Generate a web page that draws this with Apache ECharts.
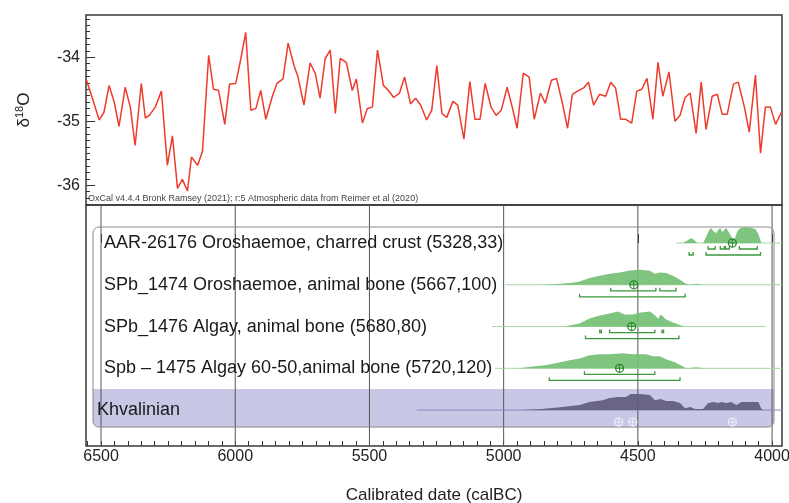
<!DOCTYPE html>
<html>
<head>
<meta charset="utf-8">
<script src="https://cdn.jsdelivr.net/npm/echarts@6/dist/echarts.min.js"></script>
<style>
html, body { margin: 0; padding: 0; background: #fff; }
#chart { width: 789px; height: 503px; }
</style>
</head>
<body>
<div id="chart"></div>
<script>
// x extents in calBC (axis runs old -> young, left -> right)
const xMin = 3963;
const xMax = 6556;
const yearTicks = [6500, 6000, 5500, 5000, 4500, 4000];
const isoTicks = [-36, -35, -34];

// δ18O curve
const isoYears = [6554, 6530, 6507, 6489, 6470, 6451, 6433, 6410, 6391, 6373, 6350, 6335, 6320, 6298, 6275, 6253, 6234, 6215, 6197, 6178,
	6163, 6140, 6122, 6099, 6081, 6062, 6039, 6021, 5998, 5979, 5961, 5942, 5923, 5905, 5886, 5863, 5845, 5822, 5803, 5781,
	5766, 5744, 5721, 5702, 5684, 5665, 5646, 5627, 5609, 5586, 5564, 5549, 5526, 5508, 5489, 5470, 5448, 5429, 5410, 5388,
	5369, 5347, 5328, 5309, 5287, 5268, 5249, 5230, 5212, 5189, 5171, 5148, 5126, 5107, 5088, 5069, 5047, 5028, 5009, 4987,
	4968, 4950, 4927, 4905, 4886, 4863, 4845, 4822, 4803, 4781, 4762, 4744, 4725, 4702, 4684, 4665, 4643, 4620, 4601, 4583,
	4564, 4545, 4523, 4504, 4485, 4466, 4444, 4425, 4407, 4384, 4362, 4343, 4324, 4305, 4283, 4264, 4246, 4223, 4204, 4186,
	4167, 4144, 4126, 4103, 4085, 4062, 4043, 4025, 4006, 3987, 3965];
const isoValues = [-34.36, -34.67, -34.98, -34.86, -34.44, -34.70, -35.08, -34.47, -34.78, -35.38, -34.41, -34.95, -34.91, -34.78, -34.53, -35.69, -35.23, -36.05, -35.91, -36.09,
	-35.56, -35.69, -35.47, -33.97, -34.50, -34.52, -35.05, -34.42, -34.41, -34.02, -33.61, -34.83, -34.80, -34.52, -34.97, -34.63, -34.41, -34.34, -33.78, -34.13,
	-34.31, -34.75, -34.09, -34.25, -34.64, -34.02, -33.89, -34.88, -34.02, -34.08, -34.52, -34.34, -35.03, -34.80, -34.78, -33.89, -34.44, -34.52, -34.63, -34.56,
	-34.31, -34.73, -34.64, -34.75, -34.98, -34.83, -34.13, -34.88, -34.94, -34.69, -34.75, -35.28, -34.38, -34.97, -34.97, -34.41, -34.78, -34.91, -34.83, -34.47,
	-34.78, -35.11, -34.25, -34.31, -34.97, -34.56, -34.72, -34.36, -34.33, -34.72, -35.11, -34.58, -34.53, -34.48, -34.39, -34.75, -34.58, -34.61, -34.39, -34.48,
	-34.97, -34.97, -35.03, -34.53, -34.50, -34.33, -34.97, -34.08, -34.61, -34.23, -35.00, -34.91, -34.63, -34.56, -35.19, -34.39, -35.13, -34.61, -34.58, -34.89,
	-34.89, -34.42, -34.39, -34.78, -35.17, -34.28, -35.50, -34.78, -34.78, -35.05, -34.86];

// radiocarbon rows
const rowLabels = [
	"AAR-26176 Oroshaemoe, charred crust (5328,33)",
	"SPb_1474 Oroshaemoe, animal bone (5667,100)",
	"SPb_1476 Algay, animal bone (5680,80)",
	"Spb \u2013 1475 Algay 60-50,animal bone (5720,120)",
	"Khvalinian",
];
// posterior distributions, [calBC, relative probability]
const distAAR = [[4332, 0], [4313, 0.19], [4302, 0.31], [4290, 0.19], [4279, 0], [4257, 0], [4246, 0.38], [4234, 0.81], [4227, 0.94], [4216, 0.69],
	[4208, 0.62], [4201, 0.81], [4193, 0.94], [4186, 0.69], [4178, 0.81], [4171, 0.94], [4159, 0.62], [4148, 0.25], [4141, 0.19], [4129, 0.75],
	[4118, 0.94], [4099, 1.0], [4077, 0.94], [4062, 0.88], [4051, 0.56], [4040, 0]];
const dist1474 = [[4856, 0], [4789, 0.06], [4744, 0.12], [4717, 0.21], [4680, 0.42], [4642, 0.56], [4605, 0.69], [4568, 0.77], [4530, 0.9], [4493, 0.94],
	[4455, 0.87], [4437, 0.69], [4418, 0.77], [4395, 0.73], [4369, 0.56], [4343, 0.31], [4324, 0.1], [4309, 0], [4283, 0.06], [4257, 0]];
const dist1476 = [[4774, 0], [4717, 0.19], [4680, 0.5], [4642, 0.69], [4605, 0.81], [4575, 0.94], [4549, 0.75], [4519, 0.75], [4489, 0.88], [4455, 0.94],
	[4440, 0.75], [4425, 0.5], [4414, 0.75], [4395, 0.44], [4369, 0.25], [4339, 0.06], [4324, 0]];
const dist1475 = [[4942, 0], [4893, 0.12], [4845, 0.19], [4807, 0.31], [4755, 0.5], [4717, 0.62], [4680, 0.81], [4642, 0.88], [4605, 0.88], [4556, 0.94],
	[4519, 0.88], [4470, 0.88], [4444, 0.75], [4418, 0.75], [4395, 0.56], [4362, 0.38], [4332, 0.12], [4320, 0], [4283, 0.06], [4249, 0]];
const distKhv = [[4931, 0], [4860, 0.06], [4781, 0.19], [4717, 0.31], [4680, 0.5], [4631, 0.62], [4605, 0.75], [4575, 0.81], [4545, 0.81], [4526, 1.0],
	[4493, 1.0], [4455, 0.94], [4437, 0.62], [4414, 0.69], [4395, 0.56], [4369, 0.56], [4343, 0.44], [4324, 0.12], [4305, 0.19], [4287, 0.06],
	[4257, 0.06], [4238, 0.44], [4219, 0.5], [4201, 0.44], [4189, 0.5], [4171, 0.44], [4152, 0.5], [4133, 0.31], [4114, 0.5], [4081, 0.5],
	[4051, 0.5], [4040, 0.06], [4032, 0]];
const rowDists = [distAAR, dist1474, dist1476, dist1475, distKhv];
// likelihood span (thin line)
const spanFrom = [4358, 4995, 5043, 5032, 5324];
const spanTo = [3963, 3963, 4025, 3963, 3963];
// 68.2% and 95.4% ranges
const range68 = [[[4238, 4212], [4193, 4178], [4174, 4159], [4122, 4055]], [[4601, 4433], [4418, 4358]], [[4642, 4636], [4605, 4437], [4410, 4404]], [[4699, 4437]], []];
const range95 = [[[4309, 4294], [4246, 4043]], [[4717, 4324]], [[4695, 4347]], [[4830, 4343]], []];
const rowMeans = [4148, 4515, 4523, 4568, null];
const phaseMarks = [4571, 4519, 4148];

const PEAK_PX = 16;
const FONT = "Liberation Sans, Arial, sans-serif";
const GREEN = "#74bf74";
const GREEN_DARK = "#3b983b";

const minorYears = [];
for (let y = 4000; y <= 6550; y += 50) minorYears.push(y);
const minorIso = [];
for (let v = -363; v <= -334; v++) minorIso.push(v / 10);

const chart = echarts.init(document.getElementById("chart"));

function marker(cx, cy, color) {
	return [
		{ type: "circle", shape: { cx: cx, cy: cy, r: 4 }, style: { fill: "none", stroke: color, lineWidth: 1.3 } },
		{ type: "line", shape: { x1: cx - 4, y1: cy, x2: cx + 4, y2: cy }, style: { stroke: color, lineWidth: 1 } },
		{ type: "line", shape: { x1: cx, y1: cy - 4, x2: cx, y2: cy + 4 }, style: { stroke: color, lineWidth: 1 } },
	];
}

function bracket(api, r, row, base, off) {
	const x1 = api.coord([r[0], row])[0];
	const x2 = api.coord([r[1], row])[0];
	return {
		type: "polyline",
		shape: { points: [[x1, base + off - 3], [x1, base + off], [x2, base + off], [x2, base + off - 3]] },
		style: { fill: "none", stroke: GREEN_DARK, lineWidth: 1.3 },
	};
}

// background box, phase band and date gridlines
function renderPanel(params, api) {
	const cs = params.coordSys;
	const top0 = api.coord([xMax, 0])[1];
	const base4 = api.coord([xMax, 4])[1];
	const left = cs.x + 7;
	const right = cs.x + cs.width - 8;
	const children = [
		{ type: "rect", shape: { x: left, y: base4 - 21, width: right - left, height: 38, r: [0, 0, 6, 6] }, style: { fill: "#c9c7e6" } },
	];
	yearTicks.forEach((yr) => {
		const x = api.coord([yr, 0])[0];
		children.push({ type: "line", shape: { x1: x, y1: cs.y, x2: x, y2: cs.y + cs.height }, style: { stroke: "#555", lineWidth: 1 } });
	});
	children.push({
		type: "rect",
		shape: { x: left, y: top0 - 16, width: right - left, height: base4 + 17 - (top0 - 16), r: 6 },
		style: { fill: "none", stroke: "#8a8a8a", lineWidth: 1 },
	});
	return { type: "group", children: children };
}

function renderRow(params, api) {
	const i = api.value(0);
	const cs = params.coordSys;
	const phase = i === 4;
	const base = api.coord([xMax, i])[1];
	const children = [];
	const a = api.coord([spanFrom[i], i])[0];
	const b = api.coord([spanTo[i], i])[0];
	children.push({ type: "line", shape: { x1: a, y1: base, x2: b, y2: base }, style: { stroke: phase ? "#8c89bd" : "#a6d8a6", lineWidth: 1 } });
	const pts = rowDists[i].map((d) => [api.coord([d[0], i])[0], base - d[1] * PEAK_PX]);
	children.push({ type: "polygon", shape: { points: pts }, style: { fill: phase ? "#5f5c7d" : GREEN, opacity: 0.92 } });
	range68[i].forEach((r) => children.push(bracket(api, r, i, base, 6)));
	range95[i].forEach((r) => children.push(bracket(api, r, i, base, 12)));
	if (rowMeans[i] !== null) {
		marker(api.coord([rowMeans[i], i])[0], base, "#2f8a2f").forEach((c) => children.push(c));
	}
	if (phase) {
		phaseMarks.forEach((yr) => marker(api.coord([yr, i])[0], base + 12, "#eeedf5").forEach((c) => children.push(c)));
	}
	children.push({
		type: "text",
		style: {
			text: rowLabels[i],
			x: cs.x + (phase ? 11 : 18),
			y: base,
			align: "left",
			verticalAlign: "middle",
			font: "18px " + FONT,
			fill: "#1a1a1a",
		},
	});
	return { type: "group", children: children };
}

const option = {
	animation: false,
	textStyle: { fontFamily: FONT },
	grid: [
		{ left: 86, right: 7, top: 15, height: 190, show: true, borderColor: "#3a3a3a", borderWidth: 1.5, outerBoundsMode: "none" },
		{ left: 86, right: 7, top: 205, height: 241, show: true, borderColor: "#3a3a3a", borderWidth: 1.5, outerBoundsMode: "none" },
	],
	xAxis: [
		{ gridIndex: 0, type: "value", inverse: true, min: xMin, max: xMax, show: false },
		{
			gridIndex: 1, type: "value", inverse: true, min: xMin, max: xMax, position: "bottom",
			axisLine: { show: false },
			axisTick: { inside: true, length: 9, customValues: yearTicks, lineStyle: { color: "#333" } },
			axisLabel: { customValues: yearTicks, fontSize: 16, color: "#222", margin: 3, formatter: (v) => String(v) },
			splitLine: { show: false },
			name: "Calibrated date (calBC)", nameLocation: "middle", nameGap: 41,
			nameTextStyle: { fontSize: 17, color: "#222" },
		},
		{
			gridIndex: 1, type: "value", inverse: true, min: xMin, max: xMax, position: "bottom",
			axisLine: { show: false },
			axisTick: { inside: true, length: 5, customValues: minorYears, lineStyle: { color: "#333" } },
			axisLabel: { show: false }, splitLine: { show: false },
		},
	],
	yAxis: [
		{
			gridIndex: 0, type: "value", min: -36.31, max: -33.34, position: "left",
			axisLine: { show: false },
			axisTick: { inside: true, length: 9, customValues: isoTicks, lineStyle: { color: "#333" } },
			axisLabel: { customValues: isoTicks, fontSize: 16, color: "#222", margin: 6 },
			splitLine: { show: false },
			name: "\u03b4{sup|18}O", nameLocation: "middle", nameRotate: 90, nameGap: 52,
			nameTextStyle: { fontSize: 17, color: "#222", rich: { sup: { fontSize: 11, fontFamily: FONT, color: "#222", padding: [0, 0, 9, 0] } } },
		},
		{
			gridIndex: 0, type: "value", min: -36.31, max: -33.34, position: "left",
			axisLine: { show: false },
			axisTick: { inside: true, length: 4, customValues: minorIso, lineStyle: { color: "#333" } },
			axisLabel: { show: false }, splitLine: { show: false },
		},
		{ gridIndex: 1, type: "value", inverse: true, min: -0.91, max: 4.86, show: false },
	],
	graphic: [
		{
			type: "text", left: 88, top: 194, z: 10,
			style: { text: "OxCal v4.4.4 Bronk Ramsey (2021); r:5 Atmospheric data from Reimer et al (2020)", font: "9px " + FONT, fill: "#444" },
		},
	],
	series: [
		{
			type: "line", xAxisIndex: 0, yAxisIndex: 0,
			data: isoYears.map((yr, k) => [yr, isoValues[k]]),
			showSymbol: false, lineStyle: { color: "#ee3b2b", width: 1.5 },
		},
		{ type: "custom", xAxisIndex: 1, yAxisIndex: 2, z: 1, silent: true, data: [[0]], renderItem: renderPanel },
		{ type: "custom", xAxisIndex: 1, yAxisIndex: 2, z: 2, silent: true, data: rowLabels.map((_, i) => [i]), renderItem: renderRow },
	],
};

chart.setOption(option);
</script>
</body>
</html>
